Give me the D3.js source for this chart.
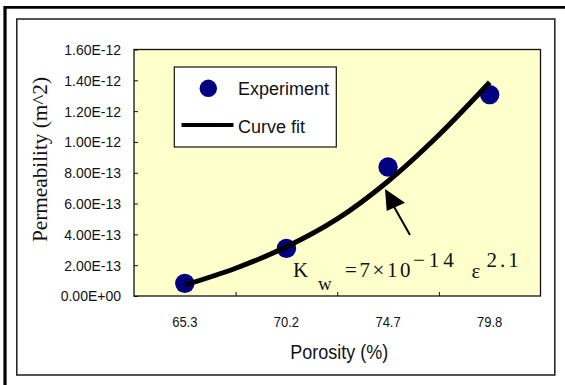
<!DOCTYPE html>
<html>
<head>
<meta charset="utf-8">
<script src="https://cdn.jsdelivr.net/npm/d3@7"></script>
<style>
  body { margin: 0; background: #fff; }
  svg { display: block; }
</style>
</head>
<body>
<div id="chart"></div>
<script>
var SANS = '"Liberation Sans", Arial, sans-serif';
var SERIF = '"Liberation Serif", "Times New Roman", Times, serif';

// categories on the x axis
var porosity = ["65.3", "70.2", "74.7", "79.8"];
// measured permeability (m^2)
var experiment = [0.082e-12, 0.309e-12, 0.837e-12, 1.307e-12];
// curve fit (position in category units)
var fitPos = [0, 0.5, 1, 1.5, 2, 2.5, 3];
var fitValues = [0.071e-12, 0.18e-12, 0.319e-12, 0.50e-12, 0.745e-12, 1.045e-12, 1.387e-12];
// y tick values
var yTicks = [0, 0.2e-12, 0.4e-12, 0.6e-12, 0.8e-12, 1.0e-12, 1.2e-12, 1.4e-12, 1.6e-12];

var W = 565, H = 385;
var plot = {left: 134, top: 49.5, right: 540.5, bottom: 296};

var svg = d3.select("#chart").append("svg")
	.attr("width", W)
	.attr("height", H);

// frames
svg.append("line").attr("x1", 4).attr("x2", W).attr("y1", 7.3).attr("y2", 7.3)
	.attr("stroke", "#000").attr("stroke-width", 2.7);
svg.append("line").attr("x1", 5).attr("x2", 5).attr("y1", 6).attr("y2", H)
	.attr("stroke", "#000").attr("stroke-width", 3.2);
svg.append("rect").attr("x", 16.8).attr("y", 19).attr("width", 538).attr("height", 356)
	.attr("fill", "#fff").attr("stroke", "#2a2a2a").attr("stroke-width", 1.6);

var x = d3.scaleBand().domain(porosity).range([plot.left, plot.right]).padding(0);
var xPos = d3.scaleLinear().domain([-0.5, porosity.length - 0.5]).range([plot.left, plot.right]);
var y = d3.scaleLinear().domain([0, 1.6e-12]).range([plot.bottom, plot.top]);

function fmtE(d) {
	var s = d.toExponential(2).split("e");
	var e = +s[1];
	var sign = e < 0 ? "-" : "+";
	var a = Math.abs(e);
	return s[0] + "E" + sign + (a < 10 ? "0" + a : a);
}

// plot area
svg.append("rect")
	.attr("x", plot.left).attr("y", plot.top)
	.attr("width", plot.right - plot.left).attr("height", plot.bottom - plot.top)
	.attr("fill", "#ffffcc").attr("stroke", "#111").attr("stroke-width", 1.3);

// y axis
var yAxis = svg.append("g")
	.attr("transform", "translate(" + plot.left + ",0)")
	.call(d3.axisRight(y).tickValues(yTicks).tickSize(4).tickFormat(""));
yAxis.select(".domain").remove();
yAxis.selectAll("line").attr("stroke", "#111");

svg.append("g").selectAll("text")
	.data(yTicks)
	.enter()
	.append("text")
	.attr("transform", function(d) { return "translate(121," + y(d) + ") scale(1,1.08)"; })
	.attr("dy", "0.36em")
	.attr("text-anchor", "end")
	.style("font-family", SANS)
	.style("font-size", "14px")
	.attr("fill", "#111")
	.text(fmtE);

// x axis ticks at category boundaries
var xAxis = svg.append("g")
	.attr("transform", "translate(0," + plot.bottom + ")")
	.call(d3.axisTop(xPos).tickValues(d3.range(0.5, porosity.length - 1, 1)).tickSize(4).tickFormat(""));
xAxis.select(".domain").remove();
xAxis.selectAll("line").attr("stroke", "#111");

svg.append("g").selectAll("text")
	.data(porosity)
	.enter()
	.append("text")
	.attr("transform", function(d) { return "translate(" + (x(d) + x.bandwidth() / 2) + ",326.5) scale(1,1.15)"; })
	.attr("text-anchor", "middle")
	.style("font-family", SANS)
	.style("font-size", "13px")
	.attr("fill", "#111")
	.text(function(d) { return d; });

// axis titles
svg.append("text")
	.attr("transform", "translate(" + ((plot.left + plot.right) / 2 + 2) + ",359) scale(1,1.15)")
	.attr("text-anchor", "middle")
	.style("font-family", SANS)
	.style("font-size", "18px")
	.attr("fill", "#111")
	.text("Porosity (%)");

svg.append("text")
	.attr("transform", "translate(47,160) rotate(-90)")
	.attr("x", -82)
	.attr("textLength", 165)
	.attr("lengthAdjust", "spacingAndGlyphs")
	.style("font-family", SERIF)
	.style("font-size", "20px")
	.attr("fill", "#111")
	.text("Permeability (m^2)");

// curve fit
var line = d3.line()
	.x(function(d, i) { return xPos(fitPos[i]); })
	.y(function(d) { return y(d); })
	.curve(d3.curveCatmullRom);

// experiment points
svg.append("g").selectAll("circle")
	.data(experiment)
	.enter()
	.append("circle")
	.attr("cx", function(d, i) { return x(porosity[i]) + x.bandwidth() / 2; })
	.attr("cy", function(d) { return y(d); })
	.attr("r", 9.7)
	.attr("fill", "#000080");

svg.append("path")
	.datum(fitValues)
	.attr("d", line)
	.attr("fill", "none")
	.attr("stroke", "#000")
	.attr("stroke-width", 5);

// legend
var lg = svg.append("g");
lg.append("rect").attr("x", 174.3).attr("y", 67).attr("width", 162).attr("height", 80)
	.attr("fill", "#fff").attr("stroke", "#111").attr("stroke-width", 1.2);
lg.append("circle").attr("cx", 208.3).attr("cy", 88.3).attr("r", 8.7).attr("fill", "#000080");
lg.append("line").attr("x1", 181.5).attr("x2", 233.5).attr("y1", 125).attr("y2", 125)
	.attr("stroke", "#000").attr("stroke-width", 4);
lg.append("text").attr("x", 238).attr("y", 95)
	.style("font-family", SANS).style("font-size", "18px").attr("fill", "#111").text("Experiment");
lg.append("text").attr("x", 238).attr("y", 133)
	.style("font-family", SANS).style("font-size", "18px").attr("fill", "#111").text("Curve fit");

// arrow annotation
svg.append("line").attr("x1", 410).attr("y1", 235).attr("x2", 393).attr("y2", 205)
	.attr("stroke", "#000").attr("stroke-width", 2);
svg.append("path")
	.attr("d", "M385,189 L386.7,211 L405,202.7 Z")
	.attr("fill", "#000");

// equation
var eq = svg.append("g").style("font-family", SERIF).attr("fill", "#111");
eq.append("text").attr("x", 293).attr("y", 277).style("font-size", "21px").text("K");
eq.append("text").attr("x", 318).attr("y", 289.5).style("font-size", "19px").text("w");
eq.append("text").attr("x", 345).attr("y", 277).style("font-size", "21px").style("letter-spacing", "2.6px").text("=7\u00d710");
eq.append("text").attr("x", 413).attr("y", 267).style("font-size", "21px").style("letter-spacing", "4px").text("\u221214");
eq.append("text").attr("x", 471.5).attr("y", 277.5).style("font-size", "21px").text("\u03b5");
eq.append("text").attr("x", 486.5).attr("y", 267).style("font-size", "21px").style("letter-spacing", "3px").text("2.1");
</script>
</body>
</html>
